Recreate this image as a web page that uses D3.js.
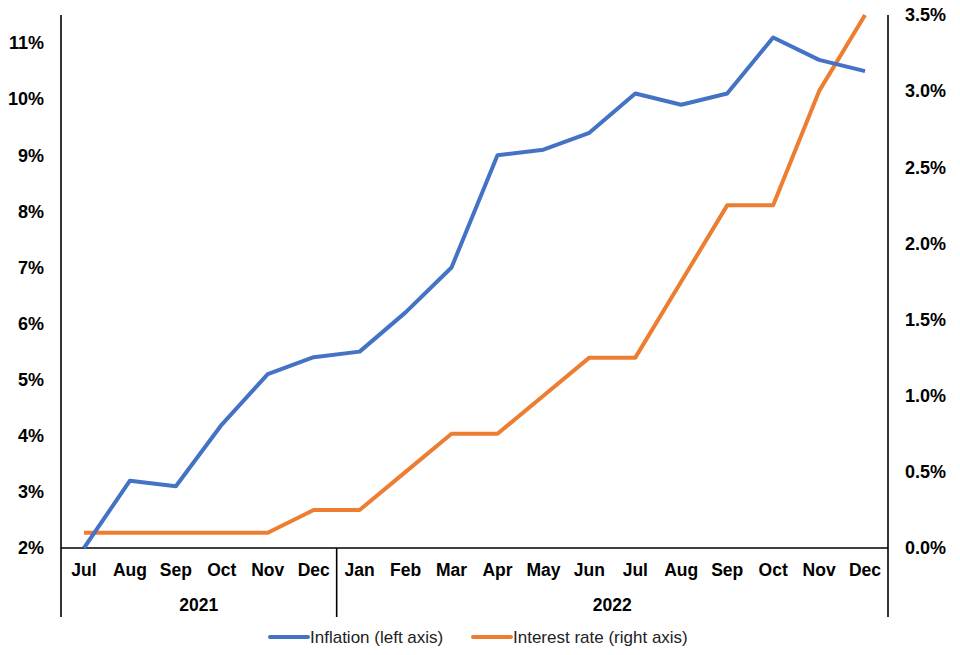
<!DOCTYPE html>
<html>
<head>
<meta charset="utf-8">
<script src="https://cdn.jsdelivr.net/npm/d3@7"></script>
<style>
  body { margin: 0; background: #fff; }
  svg { display: block; font-family: "Liberation Sans", Arial, sans-serif; }
  .tick text { font-weight: bold; fill: #000; }
</style>
</head>
<body>
<script>
// data
const months = ["Jul", "Aug", "Sep", "Oct", "Nov", "Dec",
                "Jan", "Feb", "Mar", "Apr", "May", "Jun", "Jul", "Aug", "Sep", "Oct", "Nov", "Dec"];
const years = ["2021", "2022"];
const yearSpans = [[0, 6], [6, 18]];
const inflation = [2.0, 3.2, 3.1, 4.2, 5.1, 5.4, 5.5, 6.2, 7.0, 9.0, 9.1, 9.4, 10.1, 9.9, 10.1, 11.1, 10.7, 10.5];
const interest = [0.1, 0.1, 0.1, 0.1, 0.1, 0.25, 0.25, 0.5, 0.75, 0.75, 1.0, 1.25, 1.25, 1.75, 2.25, 2.25, 3.0, 3.5];
const leftTicks = [2, 3, 4, 5, 6, 7, 8, 9, 10, 11];
const rightTicks = [0, 0.5, 1, 1.5, 2, 2.5, 3, 3.5];
const seriesNames = ["Inflation (left axis)", "Interest rate (right axis)"];

const WIDTH = 960;
const HEIGHT = 655;
const LEFT = 61, RIGHT = 888, TOP = 15, BASE = 548, BOTTOM = 617;
const BLUE = "#4472C4";
const ORANGE = "#ED7D31";

const svg = d3.select("body").append("svg")
  .attr("width", WIDTH)
  .attr("height", HEIGHT);

const idx = months.map((m, i) => i);

//scales
const x = d3.scaleBand().domain(idx).range([LEFT, RIGHT]);
const yL = d3.scaleLinear().domain([2, 11.5]).range([BASE, TOP]);
const yR = d3.scaleLinear().domain([0, 3.5]).range([BASE, TOP]);
const cx = i => x(i) + x.bandwidth() / 2;

//left axis
const leftAxis = svg.append("g")
  .attr("transform", `translate(${LEFT},0)`)
  .call(d3.axisLeft(yL).tickValues(leftTicks).tickSize(0).tickPadding(17)
    .tickFormat(d => d + "%"));
leftAxis.select(".domain").remove();
leftAxis.selectAll("text").style("font-size", "18px");

//right axis
const rightAxis = svg.append("g")
  .attr("transform", `translate(${RIGHT},0)`)
  .call(d3.axisRight(yR).tickValues(rightTicks).tickSize(0).tickPadding(17)
    .tickFormat(d => d3.format(".1f")(d) + "%"));
rightAxis.select(".domain").remove();
rightAxis.selectAll("text").style("font-size", "18px");

//month labels
const bottomAxis = svg.append("g")
  .attr("transform", `translate(0,${BASE})`)
  .call(d3.axisBottom(x).tickSize(0).tickPadding(16).tickFormat(i => months[i]));
bottomAxis.select(".domain").remove();
bottomAxis.selectAll("text").style("font-size", "17.5px");

//frame lines
const frame = svg.append("g").attr("stroke", "#000").attr("stroke-width", 1.6);
frame.append("line").attr("x1", LEFT).attr("x2", RIGHT).attr("y1", BASE).attr("y2", BASE);
frame.append("line").attr("x1", LEFT).attr("x2", LEFT).attr("y1", TOP).attr("y2", BOTTOM);
frame.append("line").attr("x1", RIGHT).attr("x2", RIGHT).attr("y1", TOP).attr("y2", BOTTOM);
frame.selectAll(".sep").data(yearSpans.slice(1)).enter().append("line")
  .attr("x1", d => x(d[0])).attr("x2", d => x(d[0]))
  .attr("y1", BASE).attr("y2", BOTTOM);

//year labels
svg.selectAll(".year").data(years).enter().append("text")
  .attr("x", (d, i) => (x(yearSpans[i][0]) + x(yearSpans[i][1] - 1) + x.bandwidth()) / 2)
  .attr("y", 605)
  .attr("dy", "0.35em")
  .attr("text-anchor", "middle")
  .style("font-size", "17.5px")
  .style("font-weight", "bold")
  .text(d => d);

//lines
const lineL = d3.line().x((d, i) => cx(i)).y(d => yL(d));
const lineR = d3.line().x((d, i) => cx(i)).y(d => yR(d));

svg.append("path").datum(interest)
  .attr("fill", "none").attr("stroke", ORANGE).attr("stroke-width", 4)
  .attr("stroke-linejoin", "round")
  .attr("d", lineR);

svg.append("path").datum(inflation)
  .attr("fill", "none").attr("stroke", BLUE).attr("stroke-width", 4)
  .attr("stroke-linejoin", "round")
  .attr("d", lineL);

//legend
const legend = svg.append("g").attr("transform", "translate(0,637)");
const legX = [270, 473];
const colors = [BLUE, ORANGE];
seriesNames.forEach((name, i) => {
  legend.append("line")
    .attr("x1", legX[i]).attr("x2", legX[i] + 38)
    .attr("y1", 0).attr("y2", 0)
    .attr("stroke", colors[i]).attr("stroke-width", 4).attr("stroke-linecap", "round");
  legend.append("text")
    .attr("x", legX[i] + 40).attr("y", 0).attr("dy", "0.35em")
    .style("font-size", "17px").attr("fill", "#222")
    .text(name);
});
</script>
</body>
</html>
